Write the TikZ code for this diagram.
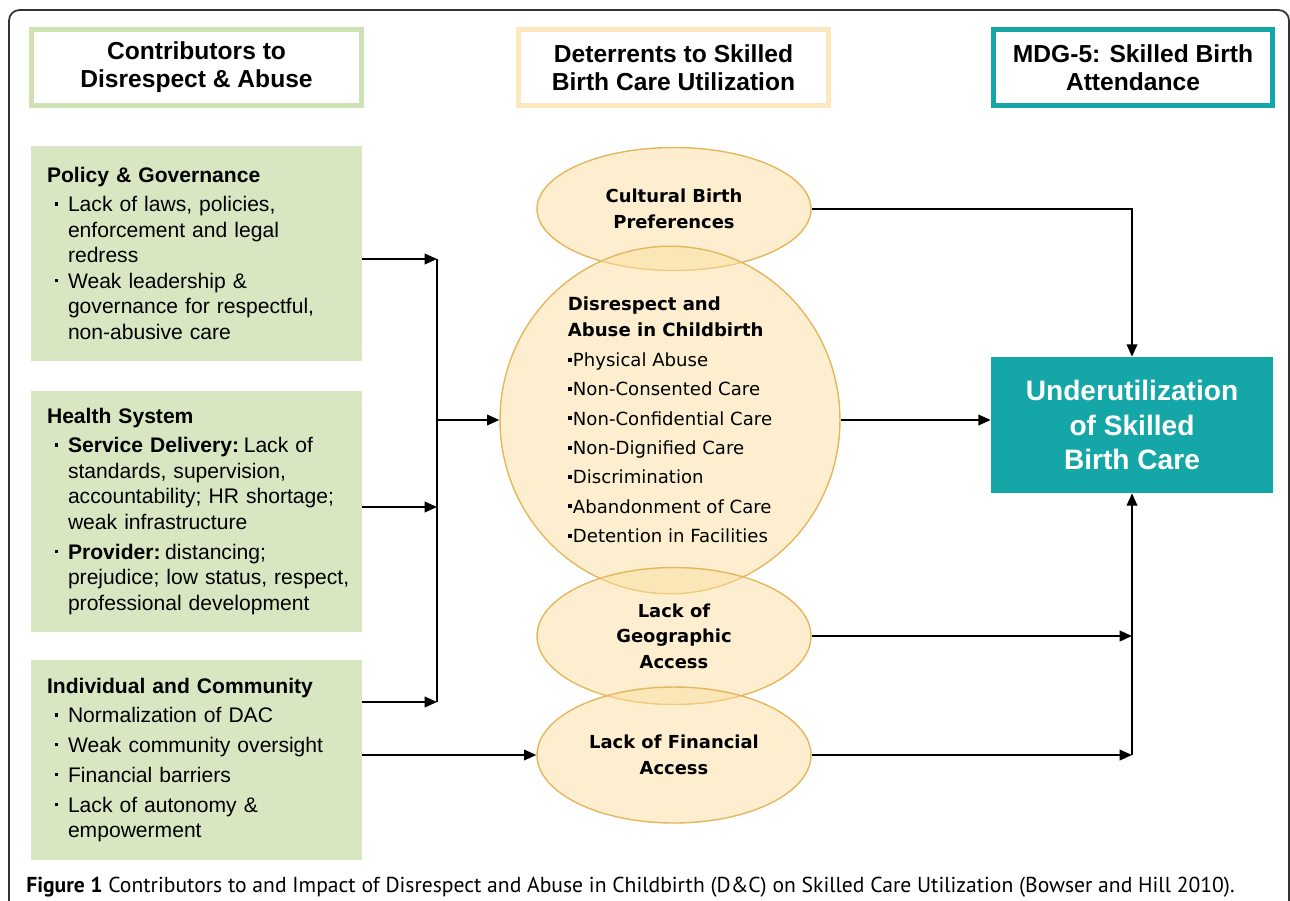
\documentclass[tikz,border=0pt]{standalone}
\usepackage{fontspec}
\setmainfont{Liberation Sans}
\newfontfamily\dejavu{DejaVu Sans}
\newfontfamily\ptsans{PT Sans}
\usetikzlibrary{shapes.geometric,arrows.meta}
\definecolor{boxgreen}{HTML}{D8E7C1}
\definecolor{linegreen}{HTML}{CFE2B3}
\definecolor{lineyellow}{HTML}{FCE7BE}
\definecolor{tealbox}{HTML}{15A7A7}
\definecolor{ellline}{HTML}{E6B65E}
\definecolor{ellfill}{HTML}{FADEA0}
\newcommand{\bu}[1]{\makebox[0.42cm][l]{\hspace{0.15cm}\rule[0.28em]{0.17em}{0.17em}}\mbox{#1}}
\newcommand{\ct}[1]{\hspace*{0.42cm}\mbox{#1}}
\newcommand{\sq}{\mdseries\rule[0.28em]{0.22em}{0.22em}\hspace{0.06em}}
\tikzset{
  head/.style={draw, line width=3pt, fill=white, inner sep=0pt, minimum height=1.52cm,
    align=center, font=\fontsize{14}{15.9}\selectfont\bfseries},
  cause/.style={fill=boxgreen, text width=5.98cm, inner xsep=0.32cm, inner ysep=0pt,
    align=left, font=\fontsize{12}{14.5}\selectfont},
  deter/.style={ellipse, draw=ellline, line width=0.8pt, fill=ellfill, fill opacity=0.5,
    text opacity=1, inner sep=0pt, minimum width=5.48cm, align=center,
    font=\dejavu\bfseries\fontsize{10.2}{14.5}\selectfont},
  goal/.style={fill=tealbox, text=white, minimum width=5.64cm, minimum height=2.72cm,
    align=center, font=\fontsize{16}{19.8}\selectfont\bfseries},
  link/.style={line width=1.1pt, ->}
}
\begin{document}
\begin{tikzpicture}[x=0.02cm, y=-0.02cm, >={Triangle[length=7pt,width=6pt]}]
\useasboundingbox (0,0) rectangle (1290,900);
\draw[line width=1pt, black!80, rounded corners=6pt] (9,905) -- (9,10) -- (1289,10) -- (1289,905);
%Headers
\node[head, draw=linegreen, minimum width=6.6cm] (hc) at (196.5,67.5) {Contributors to\\Disrespect \& Abuse};
\node[head, draw=lineyellow, minimum width=6.2cm] (hd) at (673.5,67.5) {Deterrents to Skilled\\Birth Care Utilization};
\node[head, draw=tealbox, minimum width=5.58cm] (hm) at (1133,67.5) {MDG-5: Skilled Birth\\Attendance};
%Contributors
\node[cause, minimum height=4.3cm] (pol) at (196.5,253.5) {\textbf{Policy \& Governance}\\[2pt]
\bu{Lack of laws, policies,}\\
\ct{enforcement and legal}\\
\ct{redress}\\
\bu{Weak leadership \&}\\
\ct{governance for respectful,}\\
\ct{non-abusive care}};
\node[cause, minimum height=4.82cm] (hs) at (196.5,511.5) {\textbf{Health System}\\[2pt]
\bu{\textbf{Service Delivery:}\hspace{0.22em}Lack of}\\
\ct{standards, supervision,}\\
\ct{accountability; HR shortage;}\\
\ct{weak infrastructure}\\[2.5pt]
\bu{\textbf{Provider:}\hspace{0.22em}distancing;}\\
\ct{prejudice; low status, respect,}\\
\ct{professional development}};
\node[cause, minimum height=4cm] (ind) at (196.5,760) {\textbf{Individual and Community}\\[2pt]
\bu{Normalization of DAC}\\[2.5pt]
\bu{Weak community oversight}\\[2.5pt]
\bu{Financial barriers}\\[2.5pt]
\bu{Lack of autonomy \&}\\
\ct{empowerment}};
%Deterrents
\node[deter, minimum height=2.46cm] (cbp) at (674,209) {Cultural Birth\\Preferences};
\node[deter, minimum width=6.8cm, minimum height=6.92cm, align=left,
  font=\dejavu\bfseries\fontsize{10.3}{14.7}\selectfont] (dac) at (670,420) {Disrespect and\\Abuse in Childbirth\\[2.3pt]
\sq Physical Abuse\\[2pt]
\sq Non-Consented Care\\[2pt]
\sq Non-Confidential Care\\[2pt]
\sq Non-Dignified Care\\[2pt]
\sq Discrimination\\[2pt]
\sq Abandonment of Care\\[2pt]
\sq Detention in Facilities};
\node[deter, minimum height=2.74cm] (geo) at (674,636) {Lack of\\Geographic\\Access};
\node[deter, minimum height=2.72cm] (fin) at (674,755) {Lack of Financial\\Access};
%Outcome
\node[goal] (ubc) at (1132,425) {Underutilization\\of Skilled\\Birth Care};
%Left connectors
\coordinate (b1) at (437,259);
\coordinate (b2) at (437,507);
\coordinate (b3) at (437,702);
\draw[link] (pol.east |- b1) -- (b1);
\draw[link] (hs.east |- b2) -- (b2);
\draw[link] (ind.east |- b3) -- (b3);
\draw[line width=1.1pt] (b1) -- (b3);
\draw[link] (b1 |- dac.west) -- (dac.west);
\draw[link] (ind.east |- fin.west) -- (fin.west);
%Right connectors
\draw[link] (cbp.east) -| (ubc.north);
\draw[link] (dac.east) -- (dac.east -| ubc.west);
\draw[link] (geo.east) -- (ubc.south |- geo.east);
\draw[link] (fin.east) -- (ubc.south |- fin.east);
\draw[link] (ubc.south |- fin.east) -- (ubc.south);
%Caption
\node[anchor=base west, inner sep=0pt, font=\ptsans\fontsize{12.3}{14}\selectfont] (cap) at (26,892)
  {\textbf{Figure 1} Contributors to and Impact of Disrespect and Abuse in Childbirth (D\&C) on Skilled Care Utilization (Bowser and Hill 2010).};
\end{tikzpicture}
\end{document}
